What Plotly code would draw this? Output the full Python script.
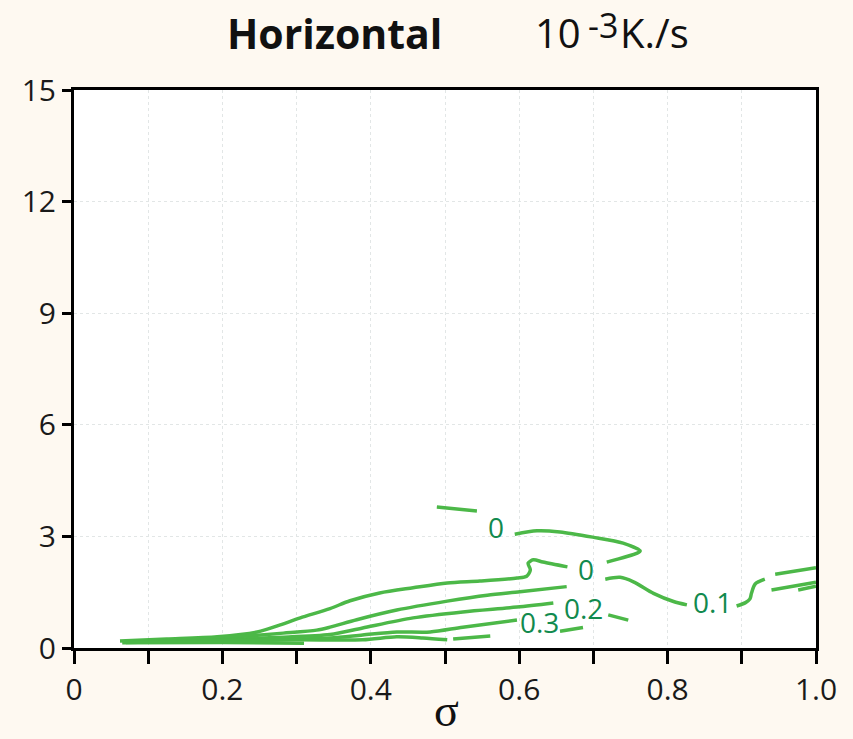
import plotly.graph_objects as go

# ---- data (sigma, value) ----
zero_a_x = [0.489, 0.543]
zero_a_y = [3.79, 3.68]
zero_b_x = [0.594, 0.624, 0.655, 0.699, 0.740, 0.763, 0.759, 0.718]
zero_b_y = [3.06, 3.15, 3.12, 2.98, 2.82, 2.61, 2.55, 2.31]
zero_c_x = [0.665, 0.632, 0.619, 0.612, 0.615, 0.610, 0.597, 0.547, 0.503, 0.457,
            0.412, 0.372, 0.345, 0.305, 0.278, 0.247, 0.193, 0.125, 0.062]
zero_c_y = [2.18, 2.31, 2.37, 2.28, 2.10, 1.93, 1.88, 1.80, 1.75, 1.62,
            1.48, 1.27, 1.06, 0.81, 0.62, 0.43, 0.30, 0.24, 0.19]

one_a_x = [0.08, 0.15, 0.237, 0.282, 0.327, 0.345, 0.381, 0.435, 0.503, 0.557, 0.601, 0.664]
one_a_y = [0.17, 0.22, 0.33, 0.40, 0.48, 0.56, 0.76, 1.02, 1.26, 1.42, 1.51, 1.65]
one_b_x = [0.716, 0.736, 0.754, 0.781, 0.808, 0.826]
one_b_y = [1.85, 1.90, 1.78, 1.47, 1.25, 1.16]
one_c_x = [0.893, 0.905, 0.911, 0.913, 0.918, 0.931]
one_c_y = [1.13, 1.22, 1.32, 1.47, 1.72, 1.85]
one_d_x = [0.945, 1.0]
one_d_y = [1.98, 2.16]

two_a_x = [0.10, 0.20, 0.27, 0.345, 0.389, 0.457, 0.524, 0.597, 0.646]
two_a_y = [0.16, 0.22, 0.28, 0.36, 0.54, 0.81, 0.97, 1.10, 1.21]
two_b_x = [0.720, 0.747]
two_b_y = [0.89, 0.75]
two_c_x = [0.940, 1.0]
two_c_y = [1.56, 1.77]
two_d_x = [0.976, 1.0]
two_d_y = [1.56, 1.66]

three_a_x = [0.12, 0.25, 0.345, 0.389, 0.435, 0.480, 0.524, 0.597]
three_a_y = [0.16, 0.22, 0.27, 0.35, 0.43, 0.43, 0.56, 0.75]
three_b_x = [0.655, 0.686]
three_b_y = [0.45, 0.55]

four_a_x = [0.07, 0.20, 0.30, 0.389, 0.435, 0.470, 0.503]
four_a_y = [0.15, 0.20, 0.22, 0.22, 0.30, 0.27, 0.22]
four_b_x = [0.511, 0.561]
four_b_y = [0.24, 0.32]
band_x = [0.065, 0.20, 0.31]
band_y = [0.14, 0.15, 0.13]

label_text = ["0", "0", "0.1", "0.2", "0.3"]
label_x = [0.569, 0.690, 0.860, 0.686, 0.628]
label_y = [3.25, 2.12, 1.24, 1.08, 0.70]

x_tickvals = [0, 0.1, 0.2, 0.3, 0.4, 0.5, 0.6, 0.7, 0.8, 0.9, 1.0]
x_ticktext = ["0", "", "0.2", "", "0.4", "", "0.6", "", "0.8", "", "1.0"]
y_tickvals = [0, 3, 6, 9, 12, 15]
y_ticktext = ["0", "3", "6", "9", "12", "15"]

LINE = "#4cb848"
LABEL = "#118a4e"
INK = "#111111"

segments = [
    (zero_a_x, zero_a_y), (zero_b_x, zero_b_y), (zero_c_x, zero_c_y),
    (one_a_x, one_a_y), (one_b_x, one_b_y), (one_c_x, one_c_y), (one_d_x, one_d_y),
    (two_a_x, two_a_y), (two_b_x, two_b_y), (two_c_x, two_c_y), (two_d_x, two_d_y),
    (three_a_x, three_a_y), (three_b_x, three_b_y),
    (four_a_x, four_a_y), (four_b_x, four_b_y), (band_x, band_y),
]

fig = go.Figure()
for sx, sy in segments:
    fig.add_trace(go.Scatter(x=sx, y=sy, mode="lines",
                             line=dict(color=LINE, width=3.5, shape="spline", smoothing=0.8),
                             hoverinfo="skip", showlegend=False, cliponaxis=True))

for t, lx, ly in zip(label_text, label_x, label_y):
    fig.add_annotation(x=lx, y=ly, text=t, showarrow=False,
                       font=dict(family="Open Sans", size=28, color=LABEL))

# title pieces
fig.add_annotation(xref="paper", yref="paper", x=0.351, y=1.103, text="<b>Horizontal</b>",
                   showarrow=False, xanchor="center", yanchor="middle",
                   font=dict(family="Open Sans", size=41, color=INK))
fig.add_annotation(xref="paper", yref="paper", x=0.618, y=1.103, text="10",
                   showarrow=False, xanchor="left", yanchor="middle",
                   font=dict(family="Open Sans", size=40, color=INK))
fig.add_annotation(xref="paper", yref="paper", x=0.690, y=1.117, text="-3",
                   showarrow=False, xanchor="left", yanchor="middle",
                   font=dict(family="Open Sans", size=34, color=INK))
fig.add_annotation(xref="paper", yref="paper", x=0.733, y=1.103, text="K./s",
                   showarrow=False, xanchor="left", yanchor="middle",
                   font=dict(family="Open Sans", size=40, color=INK))
fig.add_annotation(xref="paper", yref="paper", x=0.502, y=-0.161, text="σ",
                   showarrow=False, xanchor="center", yanchor="bottom",
                   font=dict(family="Liberation Serif", size=46, color=INK))

axis_common = dict(showline=True, linecolor="black", linewidth=3, mirror=True,
                   ticks="outside", tickcolor="black",
                   showgrid=True, gridcolor="#e2e6e6", gridwidth=1, griddash="dot",
                   zeroline=False,
                   tickfont=dict(family="Open Sans", size=30, color="#1a1a1a"))

fig.update_xaxes(range=[0, 1.0], tickmode="array", tickvals=x_tickvals, ticktext=x_ticktext,
                 ticklen=13, tickwidth=3, **axis_common)
fig.update_yaxes(range=[0, 15], tickmode="array", tickvals=y_tickvals, ticktext=y_ticktext,
                 ticklen=9, tickwidth=2.5, **axis_common)

fig.update_layout(width=853, height=739,
                  margin=dict(l=74, r=37, t=90, b=91),
                  paper_bgcolor="#fef9f1", plot_bgcolor="white")

fig.write_html("out.html")
